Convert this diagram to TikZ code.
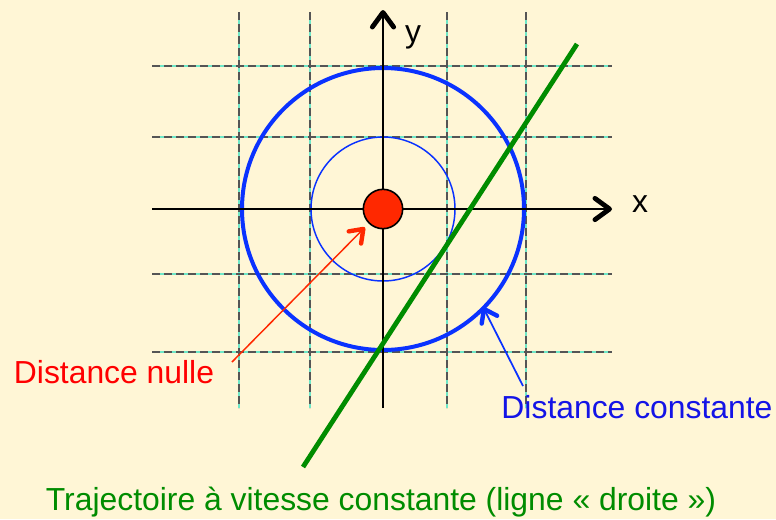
\documentclass[tikz,border=0pt]{standalone}
\usepackage{fontspec}
\setmainfont{Liberation Sans}
\usetikzlibrary{arrows.meta}
\definecolor{paperCream}{RGB}{255,246,214}
\definecolor{gridAqua}{RGB}{110,232,200}
\definecolor{gridGray}{RGB}{85,85,85}
\definecolor{ringBlue}{RGB}{10,50,255}
\definecolor{dotRed}{RGB}{255,40,0}
\definecolor{pathGreen}{RGB}{0,140,0}
\definecolor{labelBlue}{RGB}{20,20,230}
\tikzset{
gridAquaLine/.style={draw=gridAqua,line width=1.5pt},
gridDashLine/.style={draw=gridGray,line width=1.5pt,dash pattern=on 6pt off 3pt},
axisLine/.style={draw=black,line width=1.4pt,-{Straight Barb[length=11pt,width=16pt,line width=3.6pt,round]}},
labelText/.style={inner sep=0pt,anchor=base,font=\fontsize{23.9}{28}\selectfont},
barbTip/.style={-{Straight Barb[length=9pt,width=13pt,line width=3.3pt,round]}}
}

\begin{document}
\begin{tikzpicture}[x=0.75pt,y=-0.75pt]
\fill[paperCream] (0,0) rectangle (776,519);
\foreach \gx in {239,310,447,526} {
\draw[gridAquaLine] (\gx,12) -- (\gx,408);
\draw[gridDashLine] (\gx,12) -- (\gx,408);
}
\foreach \gy in {66,137,274,352} {
\draw[gridAquaLine] (152,\gy) -- (612,\gy);
\draw[gridDashLine] (152,\gy) -- (612,\gy);
}
\coordinate (origin) at (383,209);
\draw[ringBlue,line width=1.1pt] (origin) circle[radius=72];
\draw[ringBlue,line width=3pt] (origin) circle[radius=141];
\draw[axisLine] (152,209) -- (612,209);
\draw[axisLine] (383,408) -- (383,10);
\node[labelText] (xLabel) at (640,212) {x};
\node[labelText] (yLabel) at (413,42) {y};
\coordinate (trackStart) at (303,467);
\coordinate (trackEnd) at (577,44);
\draw[pathGreen,line width=3.6pt] (trackStart) -- (trackEnd);
\node[circle,fill=dotRed,draw=black,line width=1.2pt,minimum size=29.5pt,inner sep=0pt] (dot) at (origin) {};
\node[labelText,text=red] (nulleLabel) at (114,383) {Distance nulle};
\node[labelText,text=labelBlue] (constLabel) at (637,418) {Distance constante};
\node[labelText,text=pathGreen] (trackLabel) at (381,510) {Trajectoire à vitesse constante (ligne « droite »)};
\coordinate (nulleTail) at (232,362);
\draw[dotRed,line width=1.1pt,barbTip,shorten >=4pt] (nulleTail) -- (dot);
\coordinate (constTail) at (523,386);
\coordinate (ringMark) at (483,307);
\draw[ringBlue,line width=1.3pt,barbTip] (constTail) -- (ringMark);
\end{tikzpicture}
\end{document}
